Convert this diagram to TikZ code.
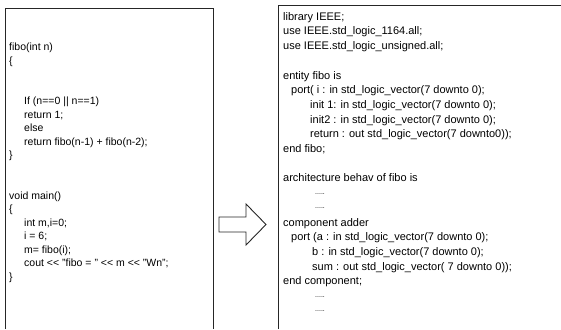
\documentclass[tikz,border=0pt]{standalone}
\usepackage{fontspec}
\setmainfont{Liberation Sans}
\begin{document}
\begin{tikzpicture}[x=1pt,y=-1pt,
  code/.style={anchor=west,inner sep=0pt,text height=8pt,text depth=2.5pt,font=\fontsize{10.5}{12}\selectfont},
  vcode/.style={code,font=\fontsize{11}{12}\selectfont},
  dots/.style={anchor=west,inner sep=0pt,font=\fontsize{7}{8}\selectfont},
  frame/.style={draw=black!85,line width=1pt},
  bigarrow/.style={draw=black!85,line width=0.9pt,fill=white,line join=miter}]
\useasboundingbox (0,0) rectangle (561,329);
% frames
\draw[frame] (5,329) -- (5,9) -- (213,9) -- (213,329);
\draw[frame] (278,329) -- (278,6) -- (561,6);
% left code (C)
\node[code] (l0)  at (9, 48)    {fibo(int n)};
\node[code] (l1)  at (9, 61.5)  {\{};
\node[code] (l4)  at (24,102)   {If (n==0 || n==1)};
\node[code] (l5)  at (24,115.5) {return 1;};
\node[code] (l6)  at (24,129)   {else};
\node[code] (l7)  at (24,142.5) {return fibo(n-1) + fibo(n-2);};
\node[code] (l8)  at (9, 156)   {\}};
\node[code] (l11) at (9, 196.5) {void main()};
\node[code] (l12) at (9, 210)   {\{};
\node[code] (l13) at (24,223.5) {int m,i=0;};
\node[code] (l14) at (24,237)   {i = 6;};
\node[code] (l15) at (24,250.5) {m= fibo(i);};
\node[code] (l16) at (24,264)   {cout {<}{<} "fibo = " {<}{<} m {<}{<} "Wn";};
\node[code] (l17) at (9, 277.5) {\}};
% right code (VHDL)
\node[vcode] (r0)  at (283, 17.5) {library IEEE;};
\node[vcode] (r1)  at (283, 32.2) {use IEEE.std\_logic\_1164.all;};
\node[vcode] (r2)  at (283, 46.9) {use IEEE.std\_logic\_unsigned.all;};
\node[vcode] (r4)  at (283, 76.3) {entity fibo is};
\node[vcode] (r5)  at (291, 91.0) {port( i : in std\_logic\_vector(7 downto 0);};
\node[vcode] (r6)  at (310,105.7) {init 1: in std\_logic\_vector(7 downto 0);};
\node[vcode] (r7)  at (310,120.4) {init2 : in std\_logic\_vector(7 downto 0);};
\node[vcode] (r8)  at (310,135.1) {return : out std\_logic\_vector(7 downto0));};
\node[vcode] (r9)  at (283,149.8) {end fibo;};
\node[vcode] (r11) at (283,179.2) {architecture behav of fibo is};
\node[dots]  (r12) at (315,193.9) {.....};
\node[dots]  (r13) at (315,208.6) {.....};
\node[vcode] (r14) at (283,223.3) {component adder};
\node[vcode] (r15) at (291,238.0) {port (a : in std\_logic\_vector(7 downto 0);};
\node[vcode] (r16) at (312,252.7) {b : in std\_logic\_vector(7 downto 0);};
\node[vcode] (r17) at (312,267.4) {sum : out std\_logic\_vector( 7 downto 0));};
\node[vcode] (r18) at (283,282.1) {end component;};
\node[dots]  (r19) at (315,296.8) {.....};
\node[dots]  (r20) at (315,311.5) {.....};
% block arrow
\draw[bigarrow] (219,217) -- (246,217) -- (246,204) -- (266,224.5) -- (246,245) -- (246,232) -- (219,232) -- cycle;
\end{tikzpicture}
\end{document}
